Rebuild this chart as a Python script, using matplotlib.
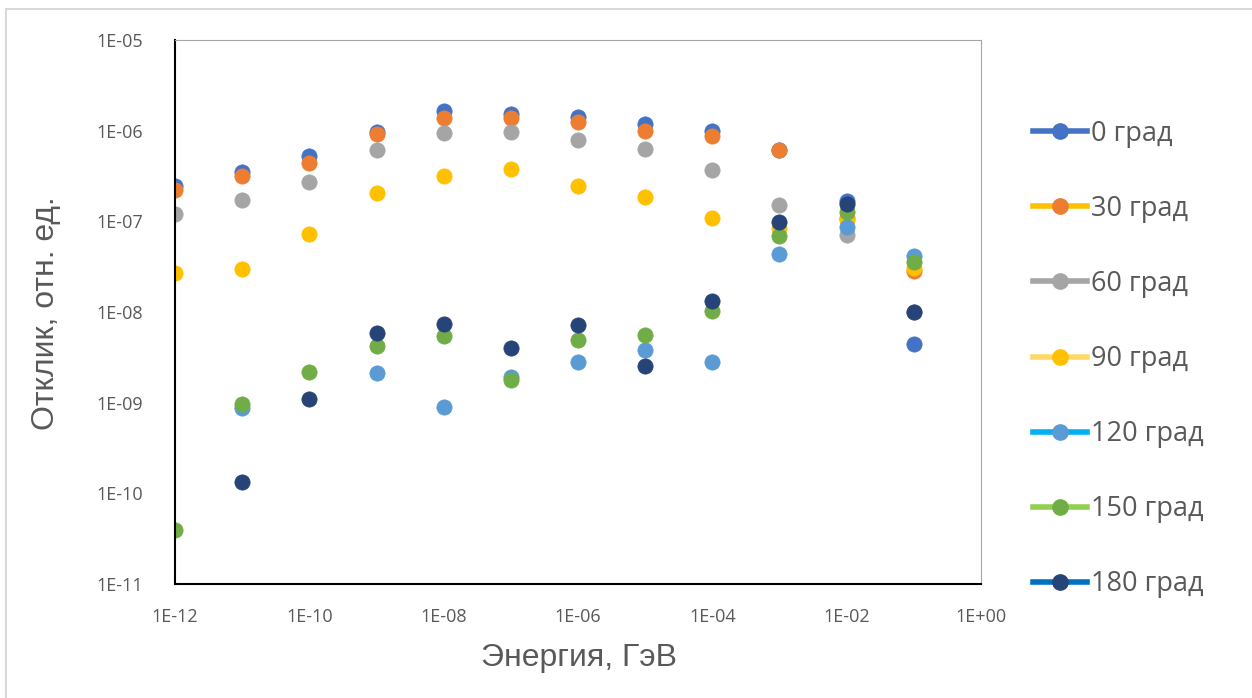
import numpy as np
import matplotlib
matplotlib.use("Agg")
import matplotlib.pyplot as plt
from matplotlib.lines import Line2D
from matplotlib.patches import Rectangle

nan = np.nan
energy = [1e-12, 1e-11, 1e-10, 1e-9, 1e-8, 1e-7, 1e-6, 1e-5, 1e-4, 1e-3, 1e-2, 1e-1]

deg0   = [2.45e-7, 3.5e-7, 5.2e-7, 9.7e-7, 1.65e-6, 1.53e-6, 1.40e-6, 1.17e-6, 1.0e-6, 6.1e-7, 1.67e-7, 4.4e-9]
deg30  = [2.2e-7, 3.15e-7, 4.35e-7, 9.1e-7, 1.39e-6, 1.37e-6, 1.26e-6, 1.0e-6, 8.7e-7, 6.05e-7, 1.1e-7, 2.8e-8]
deg60  = [1.19e-7, 1.73e-7, 2.74e-7, 6.1e-7, 9.35e-7, 9.6e-7, 7.9e-7, 6.3e-7, 3.68e-7, 1.51e-7, 7.05e-8, 1.0e-8]
deg90  = [2.72e-8, 2.98e-8, 7.3e-8, 2.04e-7, 3.16e-7, 3.78e-7, 2.47e-7, 1.85e-7, 1.1e-7, 8.5e-8, 1.03e-7, 3.03e-8]
deg120 = [nan, 8.7e-10, nan, 2.12e-9, 9.0e-10, 1.9e-9, 2.83e-9, 3.8e-9, 2.8e-9, 4.35e-8, 8.6e-8, 4.15e-8]
deg150 = [3.95e-11, 9.6e-10, 2.2e-9, 4.2e-9, 5.4e-9, 1.78e-9, 4.9e-9, 5.55e-9, 1.03e-8, 6.9e-8, 1.28e-7, 3.6e-8]
deg180 = [nan, 1.32e-10, 1.11e-9, 5.9e-9, 7.3e-9, 4.05e-9, 7.2e-9, 2.56e-9, 1.32e-8, 9.75e-8, 1.55e-7, 9.9e-9]

labels = ["0 град", "30 град", "60 град", "90 град", "120 град", "150 град", "180 град"]
series = [deg0, deg30, deg60, deg90, deg120, deg150, deg180]
marker_colors = ["#4472C4", "#ED7D31", "#A5A5A5", "#FFC000", "#5B9BD5", "#70AD47", "#264478"]
line_colors = ["#4472C4", "#FFC000", "#A5A5A5", "#FFD966", "#00B0F0", "#92D050", "#0070C0"]

W, H = 1252, 698
fig = plt.figure(figsize=(W / 100, H / 100), dpi=100)
fig.patch.set_facecolor("white")

# chart-area border
fig.add_artist(Rectangle((6 / W, -0.05), 1.2, 1 - 9 / H + 0.05, transform=fig.transFigure,
                         fill=False, edgecolor="#D9D9D9", linewidth=1.5))

ax = fig.add_axes([175 / W, 1 - 584 / H, (981 - 175) / W, (584 - 40) / H])
ax.set_xscale("log")
ax.set_yscale("log")
ax.set_xlim(1e-12, 1e0)
ax.set_ylim(1e-11, 1e-5)

for vals, mc in zip(series, marker_colors):
    ax.plot(energy, vals, linestyle="none", marker="o", markersize=11,
            markerfacecolor=mc, markeredgecolor=mc, markeredgewidth=0.5)

ax.set_xticks([10.0 ** k for k in range(-12, 1, 2)])
ax.set_xticklabels(["1E-12", "1E-10", "1E-08", "1E-06", "1E-04", "1E-02", "1E+00"])
ax.set_yticks([10.0 ** k for k in range(-11, -4)])
ax.set_yticklabels(["1E-11", "1E-10", "1E-09", "1E-08", "1E-07", "1E-06", "1E-05"])
ax.minorticks_off()
ax.tick_params(length=0, labelsize=13, colors="#595959")
for lab in ax.get_xticklabels() + ax.get_yticklabels():
    lab.set_fontfamily("Open Sans")
ax.tick_params(axis="x", pad=17)
ax.tick_params(axis="y", pad=23)

ax.spines["left"].set_color("black")
ax.spines["left"].set_linewidth(1.5)
ax.spines["bottom"].set_color("black")
ax.spines["bottom"].set_linewidth(1.5)
ax.spines["top"].set_color("#A6A6A6")
ax.spines["right"].set_color("#A6A6A6")

fig.text(579 / W, 1 - 658 / H, "Энергия, ГэВ", ha="center", va="center",
         fontsize=23, color="#595959", family="Liberation Sans")
fig.text(46 / W, 1 - 313 / H, "Отклик, отн. ед.", ha="center", va="center",
         rotation=90, fontsize=23, color="#595959", family="Liberation Sans")

handles = [Line2D([0], [0], color=lc, linewidth=4, marker="o", markersize=11,
                  markerfacecolor=mc, markeredgecolor=mc)
           for lc, mc in zip(line_colors, marker_colors)]
leg = fig.legend(handles, labels, loc="upper left", bbox_to_anchor=(1011 / W, 1 - 98 / H),
                 frameon=False, handlelength=2.0, handletextpad=0.15, labelspacing=1.74,
                 borderpad=0.3, prop={"family": "Open Sans", "size": 19.5})
for t in leg.get_texts():
    t.set_color("#595959")

fig.savefig("out.png", dpi=100)
